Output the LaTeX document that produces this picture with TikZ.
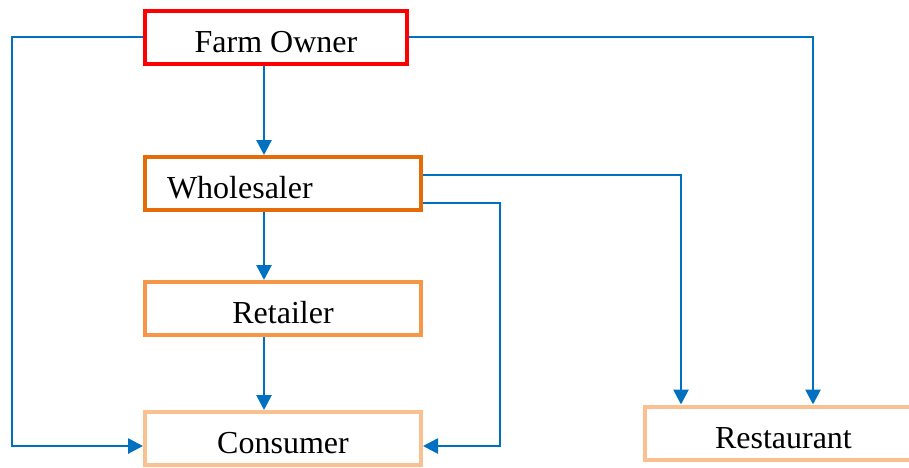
\documentclass[tikz,border=0pt]{standalone}
\usepackage{fontspec}
\setmainfont{Liberation Serif}
\usetikzlibrary{arrows.meta}
\definecolor{flowblue}{HTML}{0070C0}
\definecolor{ownerred}{HTML}{FF0000}
\definecolor{wholeorange}{HTML}{E36C09}
\definecolor{retailorange}{HTML}{F79646}
\definecolor{paleorange}{HTML}{FAC090}
\begin{document}
\begin{tikzpicture}[x=0.5pt,y=-0.5pt,
    box/.style={draw,line width=2pt,minimum height=26.5pt,inner sep=0pt,
        text height=15pt,text depth=0pt,font=\fontsize{16}{19}\selectfont},
    flow/.style={draw=flowblue,line width=1.35pt,-{Triangle[length=7.5pt,width=7.5pt]}}]
            \useasboundingbox (0,0) rectangle (909,467);
            \node[box,draw=ownerred,minimum width=131pt] (farm) at (276,37) {Farm Owner};
            \node[box,draw=wholeorange,text width=116pt,inner xsep=11pt,align=left] (whole) at (283,183.5) {Wholesaler};
            \node[box,draw=retailorange,minimum width=138pt] (retail) at (283,308.5) {Retailer};
            \node[box,draw=paleorange,minimum width=138pt] (consumer) at (283,438.5) {Consumer};
            \node[box,draw=paleorange,text width=80pt,inner xsep=35pt,align=left] (rest) at (795,433) {Restaurant};
            \coordinate (spine) at (264,0);
            \draw[flow] (farm.south -| spine) -- (whole.north -| spine);
            \draw[flow] (whole.south -| spine) -- (retail.north -| spine);
            \draw[flow] (retail.south -| spine) -- (consumer.north -| spine);
            \draw[flow] (farm.west) -- ++(-131,0) |- ([yshift=-3.75pt]consumer.west);
            \draw[flow] (farm.east) -| ([xshift=9pt]rest.north);
            \draw[flow] ([yshift=4.25pt]whole.east) -| ([xshift=-57pt]rest.north);
            \draw[flow] ([yshift=-9.75pt]whole.east) -- ++(77,0) |- ([yshift=-3.75pt]consumer.east);
        \end{tikzpicture}
\end{document}
